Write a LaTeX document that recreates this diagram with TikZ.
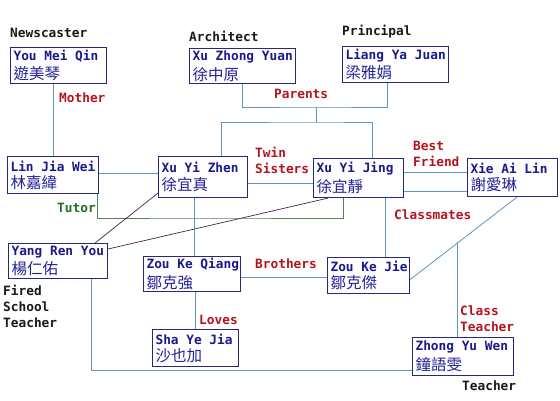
\documentclass[tikz,border=0pt]{standalone}
\usepackage{fontspec}
\newfontfamily\monof{DejaVu Sans Mono}[BoldFont={DejaVu Sans Mono Bold}]
\newfontfamily\cjkf{Noto Sans CJK TC}
\usetikzlibrary{calc}
\definecolor{boxc}{RGB}{40,40,120}
\definecolor{namec}{RGB}{25,25,140}
\definecolor{cjkc}{RGB}{35,35,150}
\definecolor{linkc}{RGB}{95,150,190}
\definecolor{redc}{RGB}{180,20,30}
\definecolor{greenc}{RGB}{35,110,35}
\definecolor{tutorl}{RGB}{80,135,80}
\definecolor{diagc}{RGB}{75,35,75}
\newcommand{\nmtxt}{\monof\bfseries\fontsize{12.8}{16}\selectfont}
\newcommand{\cjktxt}{\cjkf\fontsize{15.5}{18}\selectfont}
\newcommand{\person}[3]{\makebox[#1pt][l]{\nmtxt\color{namec}#2}\\[3pt]\makebox[#1pt][l]{\cjktxt\color{cjkc}#3}}
\tikzset{
  pbox/.style={draw=boxc, line width=1.1pt, fill=white, anchor=north west,
    inner xsep=2.5pt, inner ysep=0pt, align=left},
  bw/.style 2 args={minimum width=#1pt, minimum height=#2pt},
  lbl/.style={inner sep=0pt, anchor=west, align=left, font=\nmtxt},
  rel/.style={lbl, text=redc},
  job/.style={lbl, text=black!90},
  tut/.style={lbl, text=greenc},
  link/.style={draw=linkc, line width=1pt},
  thinlink/.style={draw=linkc, line width=0.8pt},
  tutorline/.style={draw=tutorl, line width=1pt},
  diag/.style={draw=diagc, line width=0.7pt},
}
\begin{document}
\begin{tikzpicture}[x=1pt,y=-1pt]
\useasboundingbox[fill=white] (0,0) rectangle (560,400);

% people
\node[pbox, bw={96}{36}] (ymq) at (10,47) {\person{90}{You Mei Qin}{遊美琴}};
\node[pbox, bw={106}{35}] (xzy) at (189,48) {\person{100}{Xu Zhong Yuan}{徐中原}};
\node[pbox, bw={106}{36}] (lyj) at (342,46) {\person{100}{Liang Ya Juan}{梁雅娟}};
\node[pbox, bw={91}{37}] (ljw) at (7,156) {\person{85}{Lin Jia Wei}{林嘉緯}};
\node[pbox, bw={89}{41}] (xyzh) at (158,156) {\person{83}{Xu Yi Zhen}{徐宜真}};
\node[pbox, bw={90}{39}] (xyj) at (313,158) {\person{84}{Xu Yi Jing}{徐宜靜}};
\node[pbox, bw={90}{38}] (xal) at (467,158) {\person{84}{Xie Ai Lin}{謝愛琳}};
\node[pbox, bw={99}{35}] (yry) at (8,243) {\person{93}{Yang Ren You}{楊仁佑}};
\node[pbox, bw={97}{35}] (zkq) at (143,256) {\person{91}{Zou Ke Qiang}{鄒克強}};
\node[pbox, bw={82}{36}] (zkj) at (327,257) {\person{76}{Zou Ke Jie}{鄒克傑}};
\node[pbox, bw={86}{37}] (syj) at (152,329) {\person{80}{Sha Ye Jia}{沙也加}};
\node[pbox, bw={101}{38}] (zyw) at (412,337) {\person{95}{Zhong Yu Wen}{鐘語雯}};

% occupation labels
\node[job] (lnews) at (10,33) {Newscaster};
\node[job] (larch) at (189,36) {Architect};
\node[job] (lprin) at (342,32) {Principal};
\node[job] (lfired) at (3,306) {Fired\\School\\Teacher};
\node[job] (lteach) at (462,386) {Teacher};

% relation labels
\node[rel] (lmother) at (59,98) {Mother};
\node[rel] (lparents) at (274,94) {Parents};
\node[rel] (ltwin) at (255,160) {Twin\\Sisters};
\node[rel] (lbest) at (413,154) {Best\\Friend};
\node[tut] (ltutor) at (57,208) {Tutor};
\node[rel] (lclass) at (394,215) {Classmates};
\node[rel] (lbro) at (255,264) {Brothers};
\node[rel] (lloves) at (199,320) {Loves};
\node[rel] (lct) at (460,319) {Class\\Teacher};

% mother
\draw[link] (ljw.north) -- (ljw.north |- ymq.south);

% parents
\coordinate (par) at (316,107);
\coordinate (tw) at (316,122);
\draw[link] (xzy.south) |- (par) -| ([xshift=-8pt]lyj.south);
\draw[link] (par) -- (tw);
\draw[link] ([xshift=63pt]xyzh.north west) |- (tw) -| ([xshift=59pt]xyj.north west);

% Lin Jia Wei -- Xu Yi Zhen
\coordinate (a0) at ([yshift=2pt]ljw.east);
\draw[link] (a0) -- (a0 -| xyzh.west);

% twin sisters
\coordinate (a1) at ([yshift=-6.5pt]xyzh.east);
\draw[link] (a1) -- (a1 -| xyj.west);

% best friend (two lines)
\coordinate (b1) at ([yshift=5.5pt]xyj.east);
\coordinate (b2) at ([yshift=-13.5pt]xyj.east);
\draw[link] (b1) -- (b1 -| xal.west);
\draw[link] (b2) -- (b2 -| xal.west);

% classmates
\coordinate (c1) at ([xshift=72pt]xyj.south west);
\draw[link] (c1) -- (c1 |- zkj.north);
\coordinate (d1) at ([xshift=50pt]xal.south west);
\coordinate (d2) at ([yshift=-4pt]zkj.east);
\draw[thinlink] (d1) -- (d2);
\coordinate (ctj) at ($(d1)!0.56!(d2)$);
\draw[link] (ctj) -- (ctj |- zyw.north);

% tutor
\coordinate (tut) at (200,218);
\draw[tutorline] ([xshift=-2pt]ljw.south east) |- (tut) -| ([xshift=30pt]xyj.south west);

% Yang Ren You diagonals
\draw[diag] ([xshift=87pt]yry.north west) -- ([yshift=5pt]xyzh.south west);
\draw[diag] ([yshift=-6pt]yry.north east) -- ([xshift=15pt]xyj.south west);

% Xu Yi Zhen -- Zou Ke Qiang
\coordinate (e1) at ([xshift=36pt]xyzh.south west);
\draw[link] (e1) -- (e1 |- zkq.north);

% brothers
\coordinate (f1) at ([yshift=-3.5pt]zkq.east);
\draw[link] (f1) -- (f1 -| zkj.west);

% loves
\draw[link] (syj.north) -- (syj.north |- zkq.south);

% Yang Ren You -- Zhong Yu Wen
\draw[link] ([xshift=83pt]yry.south west) |- ([yshift=6pt]zyw.south west);
\end{tikzpicture}
\end{document}
